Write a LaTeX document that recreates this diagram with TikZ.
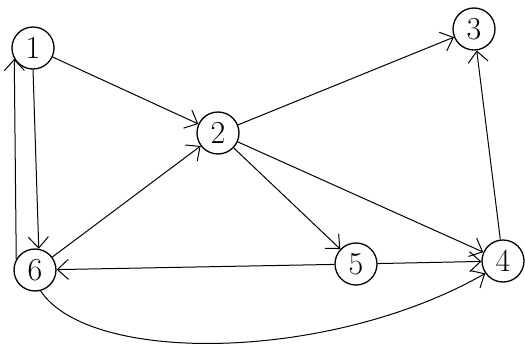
\documentclass[tikz,border=0pt]{standalone}
\usetikzlibrary{arrows.meta}
\begin{document}
\begin{tikzpicture}[x=1pt,y=-1pt,
  vtx/.style={draw,circle,line width=1.3pt,minimum size=42pt,inner sep=0pt,font=\fontsize{32}{32}\selectfont},
  edge/.style={line width=1pt,-{Straight Barb[length=11pt,width=20pt,line width=1pt]}}]
\useasboundingbox (0,0) rectangle (525,351);
\node[vtx] (n1) at (33,48) {1};
\node[vtx] (n2) at (218,133) {2};
\node[vtx] (n3) at (474,29) {3};
\node[vtx] (n4) at (503,261) {4};
\node[vtx] (n5) at (356,264) {5};
\node[vtx] (n6) at (35,270) {6};
\draw[edge] (n1) -- (n2);
\draw[edge] (n1.south) -- (n6.80);
\draw[edge] (n6.150) -- (n1.210);
\draw[edge] (n6) -- (n2);
\draw[edge] (n2) -- (n3);
\draw[edge] (n2) -- (n4);
\draw[edge] (n2) -- (n5);
\draw[edge] (n5) -- (n6);
\draw[edge] (n5) -- (n4);
\draw[edge] (n4) -- (n3);
\draw[edge] (n6.-75) .. controls (90,365) and (330,362) .. (n4.215);
\end{tikzpicture}
\end{document}
